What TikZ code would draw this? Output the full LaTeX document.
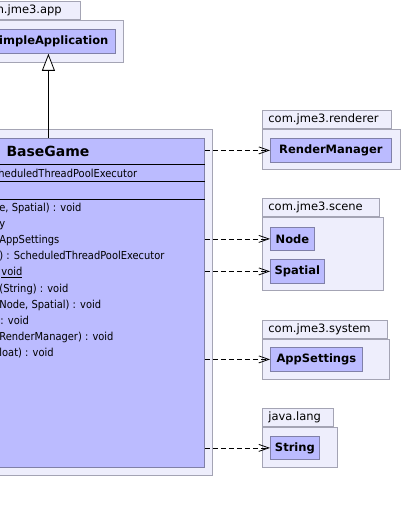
\documentclass[tikz,border=0pt]{standalone}
\usepackage{fontspec}
\setmainfont{DejaVu Sans}
\newfontfamily\memberfamily[FakeStretch=0.9]{DejaVu Sans}
\usepackage{tikz}
\usetikzlibrary{arrows.meta,positioning}
\definecolor{clsfill}{RGB}{187,187,255}
\definecolor{clsline}{RGB}{128,128,168}
\definecolor{pkgfill}{RGB}{238,238,252}
\definecolor{pkgline}{RGB}{164,164,180}
\newcommand{\txtfont}{\fontsize{11.5}{13}\selectfont}
\newcommand{\memberfont}{\memberfamily\fontsize{11}{13}\selectfont}
\tikzstyle{pkgbody} = [draw=pkgline, fill=pkgfill, anchor=north west, inner sep=0pt]
\tikzstyle{pkgtab} = [draw=pkgline, fill=pkgfill, anchor=south west, minimum height=18pt, inner xsep=6pt, inner ysep=0pt, align=left, font=\txtfont]
\tikzstyle{cls} = [draw=clsline, fill=clsfill, anchor=north west, inner sep=0pt, font=\txtfont\bfseries]
\tikzstyle{member} = [inner sep=0pt, anchor=base west, font=\memberfont]
\tikzstyle{depend} = [dash pattern=on 5pt off 3pt, -{Straight Barb[length=10pt,width=7pt]}]
\tikzstyle{inherit} = [-{Triangle[fill=white,length=17pt,width=13pt]}]

\begin{document}
\begin{tikzpicture}[x=1pt, y=-1pt, line width=0.8pt]
    \useasboundingbox (0,0) rectangle (403,513);
    \clip (0,0) rectangle (403,513);

        % Packages on the left (cut by the border)
        \node[pkgbody, minimum width=150pt, minimum height=42pt] (appPkg) at (-27,20) {};
        \node[pkgtab, text width=95pt] (appTab) at (appPkg.north west) {com.jme3.app};
        \node[cls, text width=120pt, align=right, inner xsep=7pt, minimum height=24pt] (SimpleApplication) at (-19,29) {SimpleApplication};

        \node[pkgbody, minimum width=342pt, minimum height=346pt] (gamePkg) at (-130,129) {};
        \node[cls, minimum width=312pt, minimum height=329pt] (BaseGame) at (-108,138) {};
        \node[inner sep=0pt, font=\fontsize{14}{16}\selectfont\bfseries] (BaseGameName) at (48,151) {BaseGame};
        \foreach \Y in {164, 181, 199} {
            \draw (BaseGame.west |- 0,\Y) -- (BaseGame.east |- 0,\Y);
        }
        \node[member] (attr) at (-2,177) {heduledThreadPoolExecutor};
        \foreach \i/\X/\T in {0/-1/{e, Spatial) : void}, 1/-1/y, 2/-1/AppSettings,
                3/-1/{) : ScheduledThreadPoolExecutor}, 4/1/\underline{void},
                5/-1/(String) : void, 6/-1/{Node, Spatial) : void}, 7/0/: void,
                8/-1/{RenderManager) : void}, 9/-1/loat) : void} {
            \node[member] (op\i) at (\X, {211.5+16.1*\i}) {\T};
        }

        % Packages on the right
        \node[pkgbody, minimum width=138pt, minimum height=40pt] (rendererPkg) at (262,129) {};
        \node[pkgtab, text width=117pt] (rendererTab) at (rendererPkg.north west) {com.jme3.renderer};
        \node[cls, minimum width=121pt, minimum height=24pt] (RenderManager) at (270,138) {RenderManager};

        \node[pkgbody, minimum width=121pt, minimum height=73pt] (scenePkg) at (262,217) {};
        \node[pkgtab, text width=105pt] (sceneTab) at (scenePkg.north west) {com.jme3.scene};
        \node[cls, minimum width=44pt, minimum height=23pt] (Node) at (270,227) {Node};
        \node[cls, minimum width=54pt, minimum height=24pt] (Spatial) at (270,259) {Spatial};

        \node[pkgbody, minimum width=127pt, minimum height=40pt] (systemPkg) at (262,339) {};
        \node[pkgtab, text width=113pt] (systemTab) at (systemPkg.north west) {com.jme3.system};
        \node[cls, minimum width=92pt, minimum height=24pt] (AppSettings) at (270,347) {AppSettings};

        \node[pkgbody, minimum width=75pt, minimum height=40pt] (langPkg) at (262,427) {};
        \node[pkgtab, text width=59pt] (langTab) at (langPkg.north west) {java.lang};
        \node[cls, minimum width=49pt, minimum height=23pt] (String) at (270,436) {String};

        % Generalisation and dependencies
        \draw[inherit] (BaseGame.north) -- (SimpleApplication.south);
        \foreach \X in {RenderManager, Node, Spatial, AppSettings, String} {
            \draw[depend] (BaseGame.east |- \X.west) -- (\X.west);
        }

    \end{tikzpicture}
\end{document}
